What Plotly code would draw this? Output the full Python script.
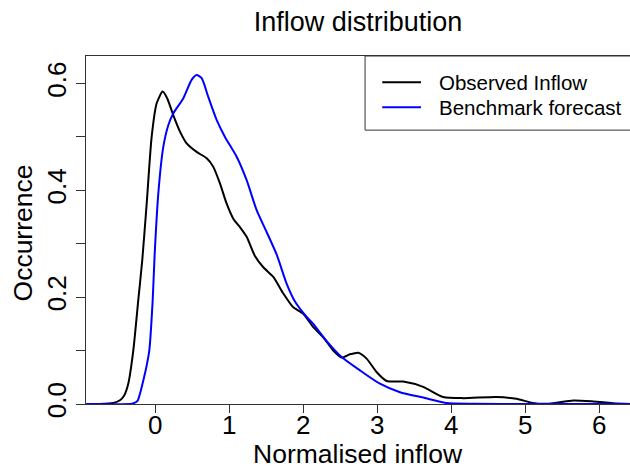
import plotly.graph_objects as go

# ---- data ----
obs_x = [-0.93, -0.75, -0.567, -0.477, -0.42, -0.365, -0.297, -0.23, -0.176, -0.116,
         -0.049, 0.019, 0.10, 0.162, 0.243, 0.334, 0.424, 0.559, 0.695, 0.784,
         0.874, 0.965, 1.054, 1.145, 1.235, 1.347, 1.46, 1.595, 1.73, 1.865,
         2.0, 2.135, 2.27, 2.405, 2.518, 2.63, 2.743, 2.856, 2.99, 3.127,
         3.35, 3.62, 3.89, 4.16, 4.61, 4.88, 5.1, 5.29, 5.65, 5.92, 6.19, 6.42]
obs_y = [0.0, 0.0, 0.002, 0.007, 0.016, 0.038, 0.10, 0.194, 0.269, 0.375,
         0.50, 0.563, 0.585, 0.572, 0.541, 0.51, 0.488, 0.472, 0.46, 0.444,
         0.413, 0.375, 0.347, 0.331, 0.313, 0.277, 0.256, 0.238, 0.207, 0.181,
         0.169, 0.144, 0.125, 0.10, 0.087, 0.093, 0.096, 0.085, 0.06, 0.043,
         0.042, 0.032, 0.013, 0.011, 0.013, 0.0097, 0.002, 0.0005, 0.0066, 0.0047, 0.0016, 0.0]

bench_x = [-0.93, -0.34, -0.30, -0.24, -0.16, -0.081, -0.035, -0.01, 0.041, 0.108,
           0.176, 0.243, 0.378, 0.491, 0.559, 0.627, 0.716, 0.829, 0.942, 1.10,
           1.235, 1.37, 1.505, 1.64, 1.776, 1.888, 2.046, 2.135, 2.29, 2.518,
           2.766, 3.036, 3.307, 3.62, 3.93, 4.3, 5.0, 6.42]
bench_y = [0.0, 0.0, 0.001, 0.006, 0.045, 0.10, 0.194, 0.275, 0.394, 0.481,
           0.522, 0.544, 0.572, 0.607, 0.616, 0.61, 0.575, 0.532, 0.50, 0.463,
           0.419, 0.363, 0.322, 0.28, 0.225, 0.192, 0.163, 0.15, 0.122, 0.088,
           0.063, 0.038, 0.022, 0.012, 0.002, 0.0005, 0.0, 0.0]

series_names = ["Observed Inflow", "Benchmark forecast"]
series_colors = ["#000000", "#0000ff"]

x_ticks = [0, 1, 2, 3, 4, 5, 6]
y_ticks = [0.0, 0.1, 0.2, 0.3, 0.4, 0.5, 0.6]
y_ticktext = ["0.0", "", "0.2", "", "0.4", "", "0.6"]

FONT = "Liberation Sans, Arial, sans-serif"
AX = "#333333"

fig = go.Figure()
for xs, ys, nm, col in [(obs_x, obs_y, series_names[0], series_colors[0]),
                        (bench_x, bench_y, series_names[1], series_colors[1])]:
    fig.add_trace(go.Scatter(x=xs, y=ys, name=nm, mode="lines",
                             line=dict(color=col, width=2, shape="spline", smoothing=0.6),
                             showlegend=False, cliponaxis=True))

# custom legend (R style box)
lx0, lx1 = 0.513, 1.05
ly0, ly1 = 0.787, 1.0
shapes = [dict(type="rect", xref="paper", yref="paper", x0=lx0, x1=lx1, y0=ly0, y1=ly1,
               line=dict(color=AX, width=1), fillcolor="rgba(0,0,0,0)")]
rows = [0.9244, 0.8526]
annotations = []
for i, (nm, col) in enumerate(zip(series_names, series_colors)):
    shapes.append(dict(type="line", xref="paper", yref="paper", x0=0.5446, x1=0.6158,
                       y0=rows[i], y1=rows[i], line=dict(color=col, width=2)))
    annotations.append(dict(text=nm, xref="paper", yref="paper", x=0.6455, y=rows[i],
                            xanchor="left", yanchor="middle", showarrow=False,
                            font=dict(family=FONT, size=20.5, color="#000")))

# axis titles
annotations.append(dict(text="Normalised inflow", xref="paper", yref="paper", x=0.5, y=-0.145,
                        xanchor="center", yanchor="middle", showarrow=False,
                        font=dict(family=FONT, size=26.5, color="#000")))
annotations.append(dict(text="Occurrence", xref="paper", yref="paper", x=-0.1158, y=0.49,
                        xanchor="center", yanchor="middle", showarrow=False, textangle=-90,
                        font=dict(family=FONT, size=26.5, color="#000")))

fig.update_layout(
    width=630, height=468,
    margin=dict(l=86, r=0, t=56, b=64),
    paper_bgcolor="white", plot_bgcolor="white",
    title=dict(text="Inflow distribution", x=0.5, xref="paper", y=1 - 22 / 468,
               yref="container", xanchor="center", yanchor="middle",
               font=dict(family=FONT, size=27, color="#000")),
    shapes=shapes, annotations=annotations,
    xaxis=dict(range=[-0.936, 6.415], tickvals=x_ticks, ticks="outside", ticklen=8,
               tickcolor=AX, showline=True, linecolor=AX, linewidth=1, mirror=True,
               showgrid=False, zeroline=False, ticklabelstandoff=-10,
               tickfont=dict(family=FONT, size=26, color="#000")),
    yaxis=dict(range=[0, 0.6516], tickvals=y_ticks, ticktext=y_ticktext, ticks="outside",
               ticklen=9, tickcolor=AX, showline=True, linecolor=AX, linewidth=1,
               mirror=False, showgrid=False, zeroline=False, tickangle=-90,
               tickfont=dict(family=FONT, size=26, color="#000")),
)

fig.write_html("out.html")
